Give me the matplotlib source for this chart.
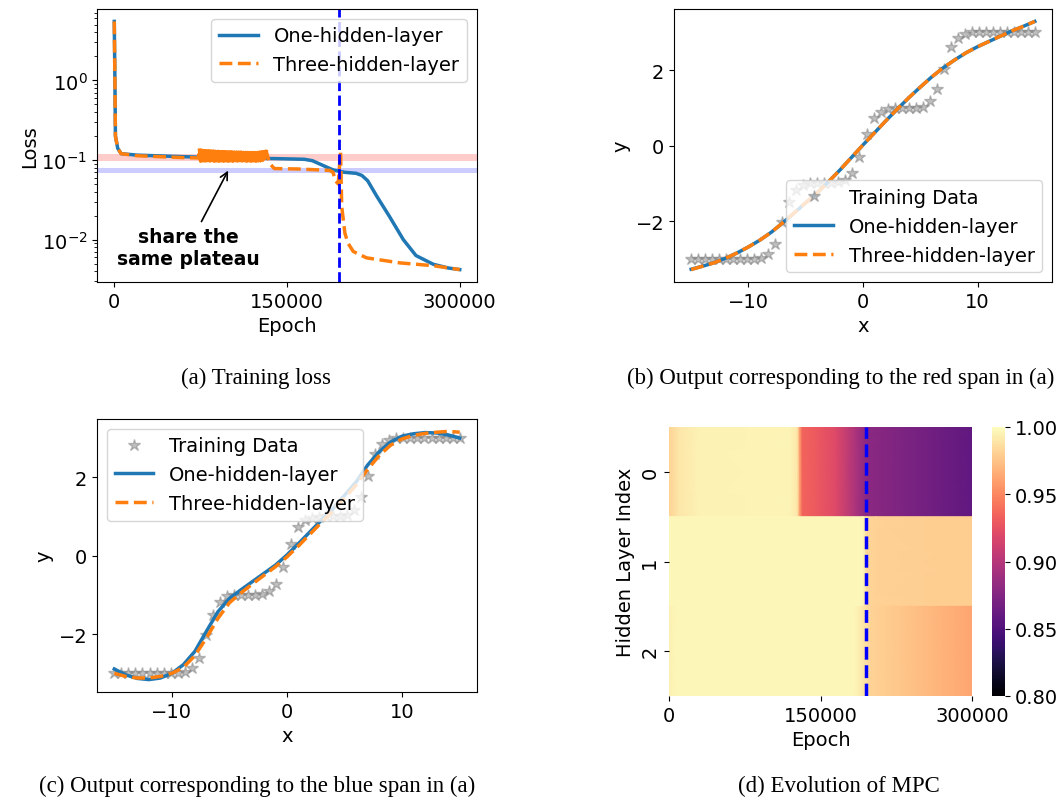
import numpy as np
import matplotlib
matplotlib.use("Agg")
import matplotlib.pyplot as plt

# ---- (a) training loss ----
epoch_one = [0, 500, 1000, 3000, 6000, 20000, 60000, 100000, 140000, 165000, 172000,
             180000, 190000, 200000, 210000, 215000, 220000, 228000, 239000, 251000,
             262000, 277000, 290000, 300000]
loss_one = [5.5, 1.2, 0.2, 0.14, 0.12, 0.115, 0.11, 0.106, 0.104, 0.102, 0.098,
            0.087, 0.075, 0.07, 0.068, 0.064, 0.055, 0.035, 0.0195, 0.01,
            0.0063, 0.0049, 0.0044, 0.0042]

epoch_three_a = [0, 500, 1000, 3000, 6000, 20000, 60000, 73000]
loss_three_a = [5.5, 1.2, 0.2, 0.14, 0.12, 0.113, 0.107, 0.106]
# oscillating stretch of the three-hidden-layer loss (sampled every 1000 epochs)
osc_start, osc_stop, osc_step = 74000, 133000, 1000
loss_three_osc = [0.133, 0.097, 0.132, 0.098, 0.131, 0.097, 0.130, 0.098, 0.130, 0.097,
                  0.129, 0.098, 0.129, 0.097, 0.128, 0.098, 0.128, 0.097, 0.127, 0.098,
                  0.127, 0.097, 0.127, 0.098, 0.126, 0.097, 0.126, 0.098, 0.126, 0.097,
                  0.125, 0.098, 0.125, 0.097, 0.125, 0.098, 0.125, 0.097, 0.124, 0.098,
                  0.124, 0.097, 0.124, 0.098, 0.124, 0.097, 0.124, 0.098, 0.124, 0.097,
                  0.124, 0.098, 0.125, 0.098, 0.126, 0.100, 0.127, 0.105, 0.128]
epoch_three_b = [135000, 139000, 160000, 187000, 190000, 192000, 194500, 196500, 197500,
                 200300, 203000, 207500, 219000, 248000, 277000, 300000]
loss_three_b = [0.09, 0.078, 0.077, 0.074, 0.07, 0.055, 0.05, 0.127, 0.026,
                0.012, 0.009, 0.0071, 0.0059, 0.0051, 0.0047, 0.0042]

red_span = (0.098, 0.119)
blue_span = (0.069, 0.079)
transition_epoch = 195000

# ---- (b) / (c) outputs ----
x_train = np.linspace(-15, 15, 50)
y_train = [-3.0, -3.0, -3.0, -3.0, -3.0, -3.0, -3.0, -3.0, -3.0, -3.0,
           -2.96, -2.86, -2.6, -2.02, -1.5, -1.17, -1.03, -1.0, -1.0, -1.0,
           -0.99, -0.97, -0.9, -0.72, -0.3, 0.3, 0.72, 0.9, 0.97, 0.99,
           1.0, 1.0, 1.0, 1.03, 1.17, 1.5, 2.02, 2.6, 2.86, 2.96,
           3.0, 3.0, 3.0, 3.0, 3.0, 3.0, 3.0, 3.0, 3.0, 3.0]

x_fit = [-15, -14, -13, -12, -11, -10, -9, -8, -7, -6, -5, -4, -3, -2, -1, 0,
         1, 2, 3, 4, 5, 6, 7, 8, 9, 10, 11, 12, 13, 14, 15]
red_one = [-3.27, -3.19, -3.10, -2.98, -2.84, -2.68, -2.50, -2.29, -2.04, -1.78, -1.51,
           -1.25, -0.95, -0.64, -0.31, 0.02, 0.34, 0.66, 0.97, 1.27, 1.55, 1.82,
           2.06, 2.27, 2.46, 2.62, 2.76, 2.90, 3.04, 3.16, 3.29]
red_three = [-3.28, -3.19, -3.10, -2.98, -2.84, -2.68, -2.50, -2.29, -2.04, -1.78, -1.51,
             -1.25, -0.95, -0.64, -0.31, 0.02, 0.34, 0.66, 0.97, 1.27, 1.55, 1.82,
             2.06, 2.27, 2.46, 2.62, 2.76, 2.90, 3.04, 3.16, 3.29]
blue_one = [-2.89, -3.04, -3.13, -3.16, -3.12, -3.0, -2.78, -2.44, -1.93, -1.43, -1.09,
            -0.87, -0.66, -0.45, -0.24, 0.02, 0.31, 0.61, 0.91, 1.2, 1.54, 1.88,
            2.31, 2.65, 2.9, 3.05, 3.11, 3.14, 3.13, 3.08, 3.0]
blue_three = [-3.0, -3.08, -3.12, -3.12, -3.08, -3.0, -2.85, -2.55, -2.1, -1.6, -1.2,
              -0.95, -0.72, -0.5, -0.28, -0.03, 0.25, 0.55, 0.85, 1.15, 1.47, 1.8,
              2.2, 2.55, 2.82, 2.98, 3.07, 3.12, 3.15, 3.17, 3.15]

# ---- (d) MPC heatmap, one row per hidden layer ----
mpc_epoch_0 = [0, 10000, 30000, 120000, 127000, 129500, 132000, 145000, 165000, 185000,
               195000, 250000, 300000]
mpc_row_0 = [0.982, 0.99, 0.995, 0.996, 0.99, 0.96, 0.935, 0.93, 0.92, 0.895,
             0.88, 0.868, 0.858]
mpc_epoch_1 = [0, 192000, 196000, 205000, 300000]
mpc_row_1 = [0.997, 0.997, 0.983, 0.981, 0.979]
mpc_epoch_2 = [0, 8000, 183000, 192000, 200000, 250000, 300000]
mpc_row_2 = [0.994, 0.997, 0.997, 0.99, 0.982, 0.972, 0.962]

plt.rcParams['font.size'] = 14
fig = plt.figure(figsize=(10.63, 8.03), dpi=100)
W, H = 1063, 803


def box(l, t, r, b):
    return [l / W, 1 - b / H, (r - l) / W, (b - t) / H]


c_one = '#1f77b4'
c_three = '#ff7f0e'

# (a)
ax = fig.add_axes(box(97, 10, 477, 283))
ax.axhspan(*red_span, color='red', alpha=0.2, lw=0)
ax.axhspan(*blue_span, color='blue', alpha=0.2, lw=0)
ax.plot(epoch_one, loss_one, color=c_one, lw=2.5, label='One-hidden-layer')
osc_epochs = np.arange(osc_start, osc_stop, osc_step)
ep3 = list(epoch_three_a) + list(osc_epochs) + epoch_three_b
ls3 = loss_three_a + loss_three_osc + loss_three_b
ax.plot(ep3, ls3, '--', color=c_three, lw=2.5, label='Three-hidden-layer')
# dense zigzag reads as a solid band
ax.plot(osc_epochs, loss_three_osc, '-', color=c_three, lw=2.5)
ax.axvline(transition_epoch, color='blue', ls='--', lw=2)
ax.set_yscale('log')
ax.set_xticks([0, 150000, 300000])
ax.set_xlabel('Epoch')
ax.set_ylabel('Loss', labelpad=2)
ax.legend(loc='upper right')
ax.annotate('share the\nsame plateau', xy=(100000, 0.079), xytext=(64000, 0.008),
            ha='center', va='center', fontweight='bold', fontsize=13.5,
            arrowprops=dict(arrowstyle='->', color='black', lw=1.2))

# (b)
ax = fig.add_axes(box(674, 10, 1052, 283))
ax.plot(x_train, y_train, '*', color='gray', alpha=0.5, ms=9, label='Training Data')
ax.plot(x_fit, red_one, color=c_one, lw=2.5, label='One-hidden-layer')
ax.plot(x_fit, red_three, '--', color=c_three, lw=2.5, label='Three-hidden-layer')
ax.set_yticks([-2, 0, 2])
ax.set_xlabel('x')
ax.set_ylabel('y')
ax.legend(loc='lower right')

# (c)
ax = fig.add_axes(box(97, 420, 477, 693))
ax.plot(x_train, y_train, '*', color='gray', alpha=0.5, ms=9, label='Training Data')
ax.plot(x_fit, blue_one, color=c_one, lw=2.5, label='One-hidden-layer')
ax.plot(x_fit, blue_three, '--', color=c_three, lw=2.5, label='Three-hidden-layer')
ax.set_yticks([-2, 0, 2])
ax.set_xlabel('x')
ax.set_ylabel('y')
ax.legend(loc='upper left')

# (d)
ax = fig.add_axes(box(669, 428, 972, 697))
for i, (ep, row) in enumerate([(mpc_epoch_0, mpc_row_0), (mpc_epoch_1, mpc_row_1),
                               (mpc_epoch_2, mpc_row_2)]):
    X = np.array([ep, ep])
    Y = np.array([[i] * len(ep), [i + 1] * len(ep)])
    C = np.array([row, row])
    mesh = ax.pcolormesh(X, Y, C, shading='gouraud', cmap='magma', vmin=0.8, vmax=1.0)
ax.axvline(transition_epoch, color='blue', ls='--', lw=2.5)
ax.set_xlim(0, 300000)
ax.set_ylim(3, 0)
ax.set_xticks([0, 150000, 300000])
ax.set_yticks([0.5, 1.5, 2.5])
ax.set_yticklabels(['0', '1', '2'], rotation=90, va='center')
for s in ax.spines.values():
    s.set_visible(False)
ax.set_xlabel('Epoch')
ax.set_ylabel('Hidden Layer Index')
cax = fig.add_axes(box(992, 428, 1005, 697))
cb = fig.colorbar(mesh, cax=cax, ticks=[0.8, 0.85, 0.9, 0.95, 1.0], format='%.2f')
cb.outline.set_visible(False)

cap = dict(ha='center', va='center', family='Liberation Serif', fontsize=16.5)
fig.text(256 / W, 1 - 378 / H, '(a) Training loss', **cap)
fig.text(841 / W, 1 - 378 / H, '(b) Output corresponding to the red span in (a)', **cap)
fig.text(257 / W, 1 - 786 / H, '(c) Output corresponding to the blue span in (a)', **cap)
fig.text(839 / W, 1 - 786 / H, '(d) Evolution of MPC', **cap)

fig.savefig('out.png', dpi=100)
